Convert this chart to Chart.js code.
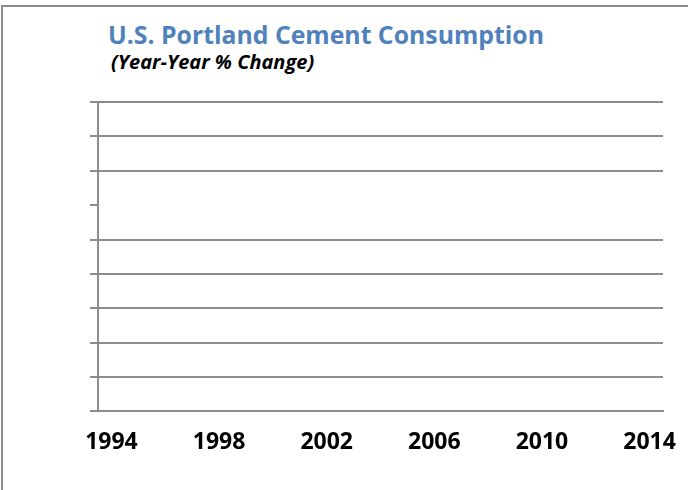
<!DOCTYPE html>
<html>
<head>
<meta charset="utf-8">
<script src="https://cdn.jsdelivr.net/npm/chart.js@4"></script>
<style>
  html, body { margin: 0; padding: 0; background: #fff; }
  #frame {
    position: absolute; left: 1px; top: 5px; width: 687px; height: 485px;
    border-top: 2px solid #8c8c8c; border-left: 2px solid #8c8c8c;
  }
  #title {
    position: absolute; left: 108px; top: 17px; margin: 0;
    font: bold 24.8px "Open Sans", sans-serif; color: #4f81bd; white-space: nowrap;
  }
  #subtitle {
    position: absolute; left: 111px; top: 48px; margin: 0;
    font: italic bold 20px "Open Sans", sans-serif; color: #000; white-space: nowrap;
  }
  #wrap { position: absolute; left: 0; top: 0; width: 688px; height: 490px; }
</style>
</head>
<body>
<div id="frame"></div>
<div id="title">U.S. Portland Cement Consumption</div>
<div id="subtitle">(Year-Year % Change)</div>
<div id="wrap"><canvas id="cementChart"></canvas></div>
<script>
const years = ['1994', '1995', '1996', '1997', '1998', '1999', '2000', '2001', '2002', '2003', '2004',
               '2005', '2006', '2007', '2008', '2009', '2010', '2011', '2012', '2013', '2014'];
// no bars are visible in the picture
const pctChange = [null, null, null, null, null, null, null, null, null, null, null,
                   null, null, null, null, null, null, null, null, null, null];
const shownYears = ['1994', '1998', '2002', '2006', '2010', '2014'];
const yMin = -25;
const yMax = 20;
const yStep = 5;
const hiddenGridValue = 5;

const gridGray = '#8c8c8c';

const ctx = document.getElementById('cementChart').getContext('2d');
new Chart(ctx, {
    type: 'bar',
    data: {
        labels: years,
        datasets: [{
            label: 'Year-Year % Change',
            data: pctChange,
            backgroundColor: '#4f81bd'
        }]
    },
    options: {
        responsive: true,
        maintainAspectRatio: false,
        animation: false,
        layout: { padding: { left: 90, top: 102, right: 25, bottom: 17 } },
        plugins: {
            legend: { display: false },
            tooltip: { enabled: false }
        },
        scales: {
            x: {
                grid: { display: false, drawTicks: false },
                border: { display: true, color: gridGray, width: 2 },
                // labels may hang past the plot edge, like the original
                afterFit: (scale) => { scale.paddingLeft = 0; scale.paddingRight = 0; },
                ticks: {
                    autoSkip: false,
                    maxRotation: 0,
                    padding: 17,
                    color: '#000',
                    font: { family: 'Open Sans', size: 23, weight: 'bold' },
                    callback: function (value) {
                        const lab = this.getLabelForValue(value);
                        return shownYears.includes(lab) ? lab : '';
                    }
                }
            },
            y: {
                min: yMin,
                max: yMax,
                ticks: { display: false, stepSize: yStep },
                grid: {
                    lineWidth: 2,
                    tickLength: 8,
                    tickColor: gridGray,
                    color: (c) => (c.tick && c.tick.value === hiddenGridValue) ? 'rgba(0,0,0,0)' : gridGray
                },
                border: { display: true, color: gridGray, width: 2 }
            }
        }
    }
});
</script>
</body>
</html>
